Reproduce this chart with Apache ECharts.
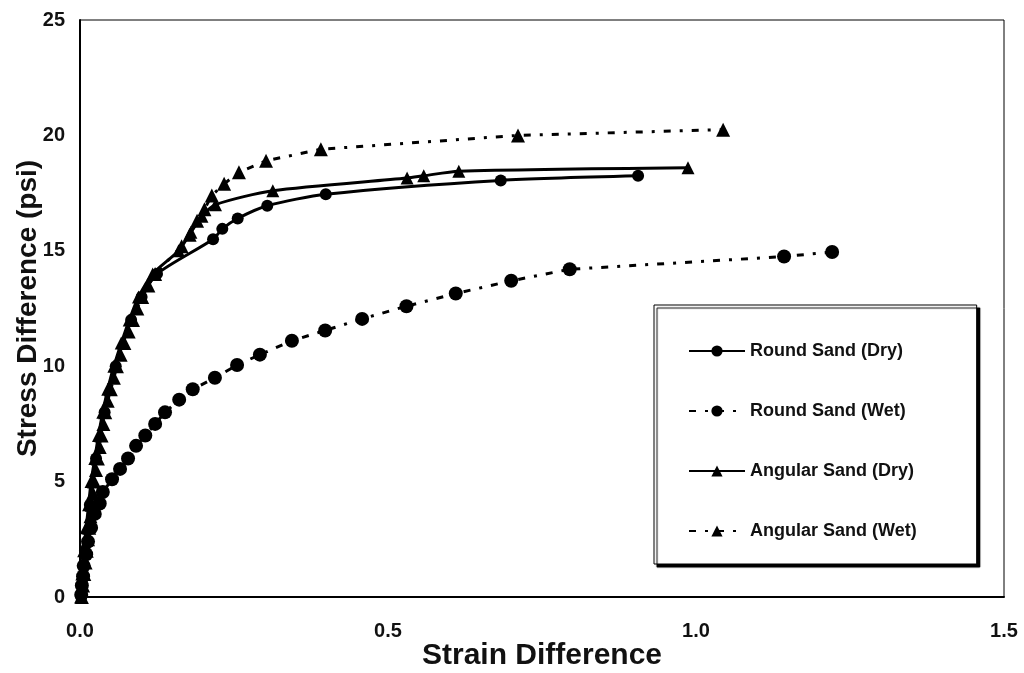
<!DOCTYPE html>
<html>
<head>
<meta charset="utf-8">
<script src="https://cdn.jsdelivr.net/npm/echarts@6/dist/echarts.min.js"></script>
<style>
  html, body { margin: 0; padding: 0; background: #fff; }
  #chart { width: 1024px; height: 673px; }
</style>
</head>
<body>
<div id="chart"></div>
<script>
// strain / stress readings for each test
var roundDryStrain = [0.002, 0.008, 0.016, 0.026, 0.040, 0.058, 0.083, 0.100, 0.125, 0.216, 0.231, 0.256, 0.304, 0.399, 0.683, 0.906];
var roundDryStress = [0.0, 2.0, 4.0, 6.0, 8.0, 10.0, 12.0, 13.0, 14.0, 15.5, 15.95, 16.4, 16.95, 17.45, 18.05, 18.25];

var roundWetStrain = [0.002, 0.003, 0.005, 0.006, 0.010, 0.013, 0.018, 0.024, 0.032, 0.037, 0.052, 0.065, 0.078, 0.091, 0.106, 0.122, 0.138, 0.161, 0.183, 0.219, 0.255, 0.292, 0.344, 0.398, 0.458, 0.530, 0.610, 0.700, 0.795, 1.143, 1.221];
var roundWetStress = [0.1, 0.5, 0.9, 1.35, 1.85, 2.4, 3.0, 3.6, 4.05, 4.55, 5.1, 5.55, 6.0, 6.55, 7.0, 7.5, 8.0, 8.55, 9.0, 9.5, 10.05, 10.5, 11.1, 11.55, 12.05, 12.6, 13.15, 13.7, 14.2, 14.75, 14.95];

var angDryStrain = [0.001, 0.003, 0.006, 0.010, 0.014, 0.018, 0.024, 0.030, 0.037, 0.045, 0.055, 0.067, 0.080, 0.095, 0.118, 0.160, 0.180, 0.198, 0.220, 0.313, 0.531, 0.558, 0.615, 0.987];
var angDryStress = [0.0, 1.0, 2.0, 3.0, 4.0, 5.0, 6.0, 7.0, 8.0, 9.0, 10.0, 11.0, 12.0, 13.0, 14.0, 15.0, 15.8, 16.5, 17.0, 17.6, 18.15, 18.25, 18.45, 18.6];

var angWetStrain = [0.003, 0.005, 0.007, 0.009, 0.011, 0.013, 0.015, 0.017, 0.019, 0.021, 0.023, 0.026, 0.029, 0.032, 0.035, 0.038, 0.041, 0.045, 0.050, 0.055, 0.060, 0.066, 0.072, 0.079, 0.086, 0.093, 0.101, 0.111, 0.122, 0.165, 0.178, 0.190, 0.202, 0.214, 0.234, 0.258, 0.302, 0.391, 0.711, 1.044];
var angWetStress = [0.0, 0.5, 1.0, 1.5, 2.0, 2.5, 3.0, 3.5, 4.0, 4.5, 5.0, 5.5, 6.0, 6.5, 7.0, 7.5, 8.0, 8.5, 9.0, 9.5, 10.0, 10.5, 11.0, 11.5, 12.0, 12.5, 13.0, 13.5, 14.0, 15.2, 15.7, 16.3, 16.8, 17.4, 17.9, 18.4, 18.9, 19.4, 20.0, 20.25];

var seriesNames = ['Round Sand (Dry)', 'Round Sand (Wet)', 'Angular Sand (Dry)', 'Angular Sand (Wet)'];

function pairs(xs, ys) {
  var out = [];
  for (var i = 0; i < xs.length; i++) out.push([xs[i], ys[i]]);
  return out;
}

var font = 'Liberation Sans, Arial, sans-serif';
var wetDash = [7, 9, 3, 9];

var myChart = echarts.init(document.getElementById('chart'));
myChart.setOption({
  animation: false,
  backgroundColor: '#fff',
  grid: {
    left: 80, right: 20, top: 20, bottom: 76,
    outerBoundsMode: 'none',
    show: true, borderColor: '#000', borderWidth: 1
  },
  xAxis: {
    type: 'value', min: 0, max: 1.5, interval: 0.5,
    name: 'Strain Difference', nameLocation: 'middle', nameGap: 44,
    nameMoveOverlap: false,
    nameTextStyle: { fontFamily: font, fontWeight: 'bold', fontSize: 30, color: '#111' },
    axisLine: { lineStyle: { color: '#000', width: 2 } },
    axisTick: { show: false },
    splitLine: { show: false },
    axisLabel: {
      margin: 24, fontFamily: font, fontWeight: 'bold', fontSize: 20, color: '#111',
      formatter: function (v) { return v.toFixed(1); }
    }
  },
  yAxis: {
    type: 'value', min: 0, max: 25, interval: 5,
    name: 'Stress Difference (psi)', nameLocation: 'middle', nameGap: 38,
    nameMoveOverlap: false,
    nameTextStyle: { fontFamily: font, fontWeight: 'bold', fontSize: 28, color: '#111' },
    axisLine: { show: true, lineStyle: { color: '#000', width: 2 } },
    axisTick: { show: false },
    splitLine: { show: false },
    axisLabel: { margin: 15, fontFamily: font, fontWeight: 'bold', fontSize: 20, color: '#111' }
  },
  legend: {
    orient: 'vertical',
    left: 654, top: 305,
    padding: [37, 60, 24, 34],
    itemWidth: 56, itemHeight: 14, itemGap: 42,
    backgroundColor: '#fff',
    borderColor: '#000', borderWidth: 1,
    shadowColor: '#000', shadowBlur: 1, shadowOffsetX: 3, shadowOffsetY: 3,
    textStyle: { fontFamily: font, fontWeight: 'bold', fontSize: 18, color: '#111' },
    data: seriesNames
  },
  series: [
    {
      name: seriesNames[0], type: 'line', smooth: 0.25,
      data: pairs(roundDryStrain, roundDryStress),
      symbol: 'circle', symbolSize: 12,
      itemStyle: { color: '#000' },
      lineStyle: { color: '#000', width: 3 }
    },
    {
      name: seriesNames[1], type: 'line',
      data: pairs(roundWetStrain, roundWetStress),
      symbol: 'circle', symbolSize: 14,
      itemStyle: { color: '#000' },
      lineStyle: { color: '#000', width: 3, type: wetDash }
    },
    {
      name: seriesNames[2], type: 'line', smooth: 0.25,
      data: pairs(angDryStrain, angDryStress),
      symbol: 'triangle', symbolSize: 13,
      itemStyle: { color: '#000' },
      lineStyle: { color: '#000', width: 3 }
    },
    {
      name: seriesNames[3], type: 'line',
      data: pairs(angWetStrain, angWetStress),
      symbol: 'triangle', symbolSize: 14,
      itemStyle: { color: '#000' },
      lineStyle: { color: '#000', width: 3, type: wetDash }
    }
  ]
});
</script>
</body>
</html>
